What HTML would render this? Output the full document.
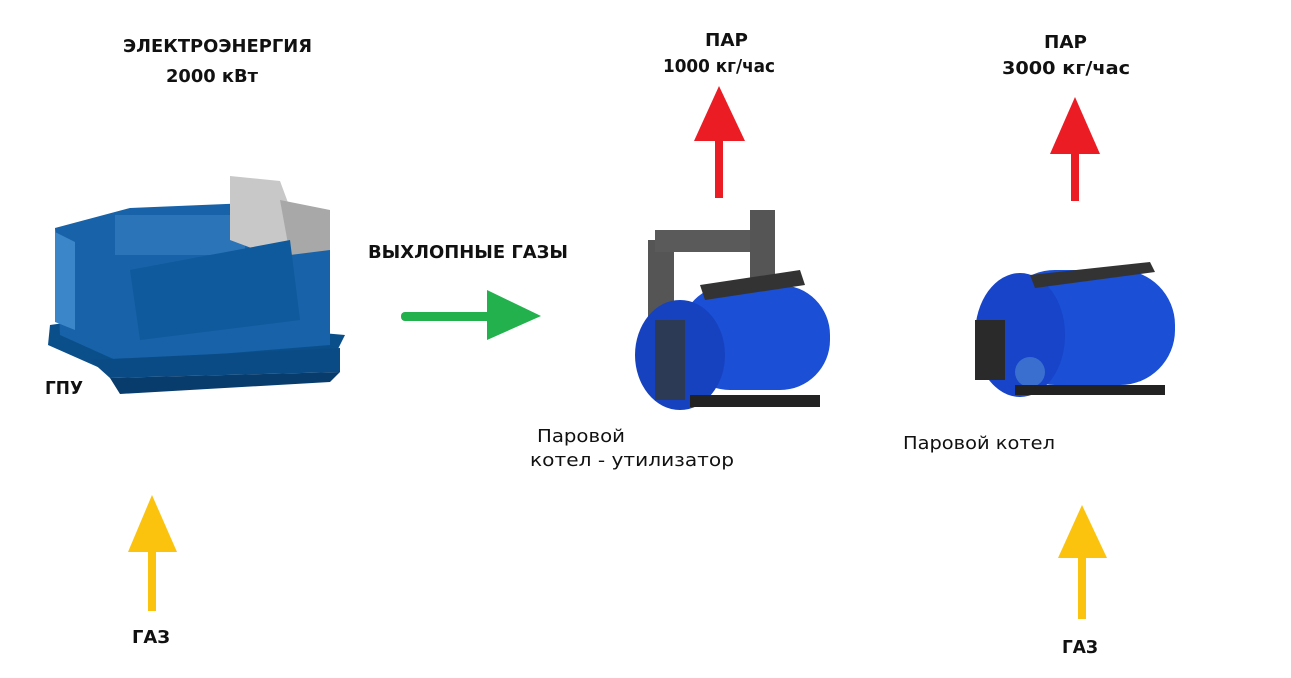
<!DOCTYPE html>
<html><head><meta charset="utf-8"><style>
body{margin:0;background:#fff;width:1291px;height:678px;overflow:hidden}
svg{display:block}
text{font-family:"DejaVu Sans","Liberation Sans",sans-serif;font-weight:bold;font-size:18px;fill:#111}
.n{font-weight:normal}
</style></head><body>
<svg width="1291" height="678" viewBox="0 0 1291 678">
<!-- engine -->
<g>
<polygon points="48,345 100,368 335,355 345,335 120,315 50,325" fill="#0b4f8a"/>
<polygon points="55,228 130,208 250,203 330,250 330,345 120,362 60,335" fill="#1762a8"/>
<polygon points="55,232 75,242 75,330 55,322" fill="#3a86c8"/>
<rect x="115" y="215" width="130" height="40" fill="#2b74b8"/>
<polygon points="230,176 280,181 300,235 270,255 230,240" fill="#c8c8c8"/>
<polygon points="280,200 330,210 330,250 290,255" fill="#a8a8a8"/>
<polygon points="130,270 290,240 300,320 140,340" fill="#0e5a9c"/>
<polygon points="90,360 340,348 340,372 110,378" fill="#0a4b85"/>
<polygon points="110,378 340,372 330,382 120,394" fill="#083c6c"/>
</g>

<!-- boiler 1 -->
<g>
<rect x="648" y="240" width="26" height="95" fill="#555"/>
<rect x="655" y="230" width="115" height="22" fill="#5a5a5a"/>
<rect x="750" y="210" width="25" height="75" fill="#555"/>
<rect x="680" y="285" width="150" height="105" rx="50" fill="#1a4fd6"/>
<ellipse cx="680" cy="355" rx="45" ry="55" fill="#1642c0"/>
<rect x="655" y="320" width="30" height="80" fill="#2d3a55"/>
<polygon points="700,285 800,270 805,285 705,300" fill="#333"/>
<rect x="690" y="395" width="130" height="12" fill="#222"/>
</g>

<!-- boiler 2 -->
<g>
<rect x="1000" y="270" width="175" height="115" rx="55" fill="#1a4fd6"/>
<ellipse cx="1020" cy="335" rx="45" ry="62" fill="#1744c8"/>
<polygon points="1030,275 1150,262 1155,272 1035,288" fill="#333"/>
<rect x="975" y="320" width="30" height="60" fill="#2a2a2a"/>
<circle cx="1030" cy="372" r="15" fill="#3a6fd0"/>
<rect x="1015" y="385" width="150" height="10" fill="#222"/>
</g>

<!-- labels -->
<text x="123" y="52" textLength="189" lengthAdjust="spacingAndGlyphs">ЭЛЕКТРОЭНЕРГИЯ</text>
<text x="166" y="82" textLength="92" lengthAdjust="spacingAndGlyphs">2000 кВт</text>
<text x="45" y="394" textLength="38" lengthAdjust="spacingAndGlyphs">ГПУ</text>
<text x="132" y="643" textLength="38" lengthAdjust="spacingAndGlyphs">ГАЗ</text>
<text x="368" y="258" textLength="200" lengthAdjust="spacingAndGlyphs">ВЫХЛОПНЫЕ ГАЗЫ</text>
<text x="705" y="46" textLength="43" lengthAdjust="spacingAndGlyphs">ПАР</text>
<text x="663" y="72" textLength="112" lengthAdjust="spacingAndGlyphs">1000 кг/час</text>
<text x="1044" y="48" textLength="43" lengthAdjust="spacingAndGlyphs">ПАР</text>
<text x="1002" y="74" textLength="128" lengthAdjust="spacingAndGlyphs">3000 кг/час</text>
<text class="n" x="537" y="442" textLength="88" lengthAdjust="spacingAndGlyphs">Паровой</text>
<text class="n" x="530" y="466" textLength="204" lengthAdjust="spacingAndGlyphs">котел - утилизатор</text>
<text class="n" x="903" y="449" textLength="152" lengthAdjust="spacingAndGlyphs">Паровой котел</text>
<text x="1062" y="653" textLength="36" lengthAdjust="spacingAndGlyphs">ГАЗ</text>

<!-- arrows -->
<g fill="#fcc30e">
<polygon points="152,495 177,552 128,552"/><rect x="148" y="550" width="8" height="61"/>
<polygon points="1082,505 1107,558 1058,558"/><rect x="1078" y="556" width="8" height="63"/>
</g>
<g fill="#ec1c24">
<polygon points="719,86 745,141 694,141"/><rect x="715" y="139" width="8" height="59"/>
<polygon points="1075,97 1100,154 1050,154"/><rect x="1071" y="152" width="8" height="49"/>
</g>
<g fill="#22b14c">
<rect x="401" y="312" width="90" height="9" rx="4"/><polygon points="487,290 541,316 487,340"/>
</g>
</svg>
</body></html>
